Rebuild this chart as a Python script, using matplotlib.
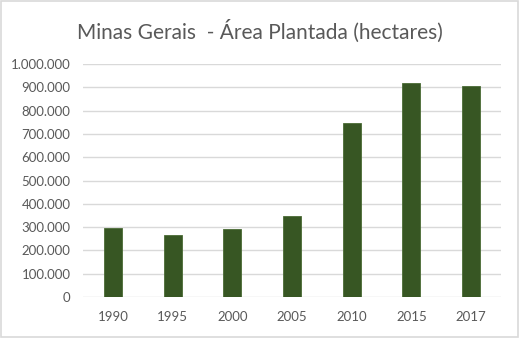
import matplotlib.pyplot as plt
from matplotlib.ticker import FuncFormatter
from matplotlib.patches import Rectangle

years = ['1990', '1995', '2000', '2005', '2010', '2015', '2017']
area = [298000, 266000, 290000, 347000, 746000, 917000, 906000]

plt.rcParams['font.family'] = ['Lato', 'DejaVu Sans']

fig = plt.figure(figsize=(5.2, 3.38), dpi=100)
ax = fig.add_axes([83 / 520, 1 - 297 / 338, 418 / 520, 233 / 338])

ax.bar(years, area, width=0.3, color='#375623', edgecolor='#4a6b35', linewidth=0.6, zorder=3)

ax.set_ylim(0, 1000000)
ax.set_xlim(-0.5, len(years) - 0.5)
ax.set_yticks(range(0, 1000001, 100000))
ax.yaxis.set_major_formatter(FuncFormatter(lambda v, p: f'{int(v):,}'.replace(',', '.')))
ax.grid(axis='y', color='#d9d9d9', linewidth=1, zorder=0)
for s in ax.spines.values():
    s.set_visible(False)
ax.tick_params(axis='both', length=0, colors='#595959', labelsize=9.5)
ax.tick_params(axis='y', pad=9)
ax.tick_params(axis='x', pad=10)

fig.text(0.5, 1 - 31 / 338, 'Minas Gerais  - Área Plantada (hectares)', ha='center', va='center',
         fontsize=15, color='#595959')

fig.patches.append(Rectangle((0.002, 0.003), 0.995, 0.994, transform=fig.transFigure,
                             fill=False, edgecolor='#d9d9d9', linewidth=1.2))

fig.savefig('out.png', dpi=100)
